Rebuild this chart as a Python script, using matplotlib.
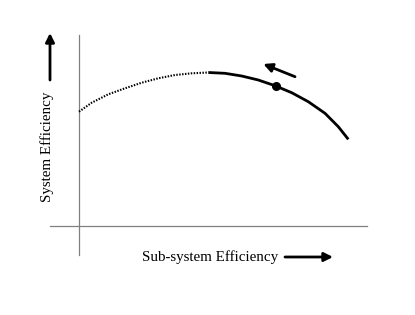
import numpy as np
import matplotlib
matplotlib.use('Agg')
from matplotlib import pyplot as plt

plt.rcParams['font.family'] = ['Liberation Serif', 'DejaVu Serif']

# curve (origin at the axis crossing)
dot_x = [0, 12.7, 29.3, 46, 62.7, 79.3, 96, 112.7, 129.3]
dot_y = [114.3, 123.3, 131.7, 137.7, 143.3, 147.7, 151, 152.7, 153.5]
sol_x = [129.3, 146, 162.7, 179.3, 196, 212.7, 229.3, 246, 259.3, 269.3]
sol_y = [153.5, 152.7, 150, 146, 140.3, 133.3, 124.3, 112.7, 99.3, 86.7]
op_x, op_y = 196.7, 140.3

x_label = 'Sub-system Efficiency'
y_label = 'System Efficiency'

fig = plt.figure(figsize=(4.15, 3.15), dpi=100)
ax = fig.add_axes([0, 0, 1, 1])
ax.set_xlim(-79, 336)
ax.set_ylim(-89, 226)
ax.axis('off')

# axes lines
ax.plot([0, 0], [-29, 191], color='#808080', lw=0.9)
ax.plot([-29, 288], [0, 0], color='#808080', lw=0.9)

ax.plot(dot_x, dot_y, color='black', lw=1.5, ls=(0, (0.7, 0.7)),
        solid_joinstyle='round')
ax.plot(sol_x, sol_y, color='black', lw=2.0, solid_capstyle='butt',
        solid_joinstyle='round')
ax.plot(op_x, op_y, 'o', color='black', ms=5.5)

arrow = dict(arrowstyle='-|>', color='black', lw=2.0, mutation_scale=13,
             shrinkA=0, shrinkB=0)
ax.annotate('', xy=(184.3, 162), xytext=(216, 149.3), arrowprops=arrow)
ax.annotate('', xy=(-29, 193), xytext=(-29, 146), arrowprops=arrow)
ax.annotate('', xy=(254, -31), xytext=(206, -31), arrowprops=arrow)

ax.text(-32, 79, y_label, rotation=90, ha='center', va='center', fontsize=10.8)
ax.text(131, -31, x_label, ha='center', va='center', fontsize=10.8)

fig.savefig('out.png', dpi=100)
